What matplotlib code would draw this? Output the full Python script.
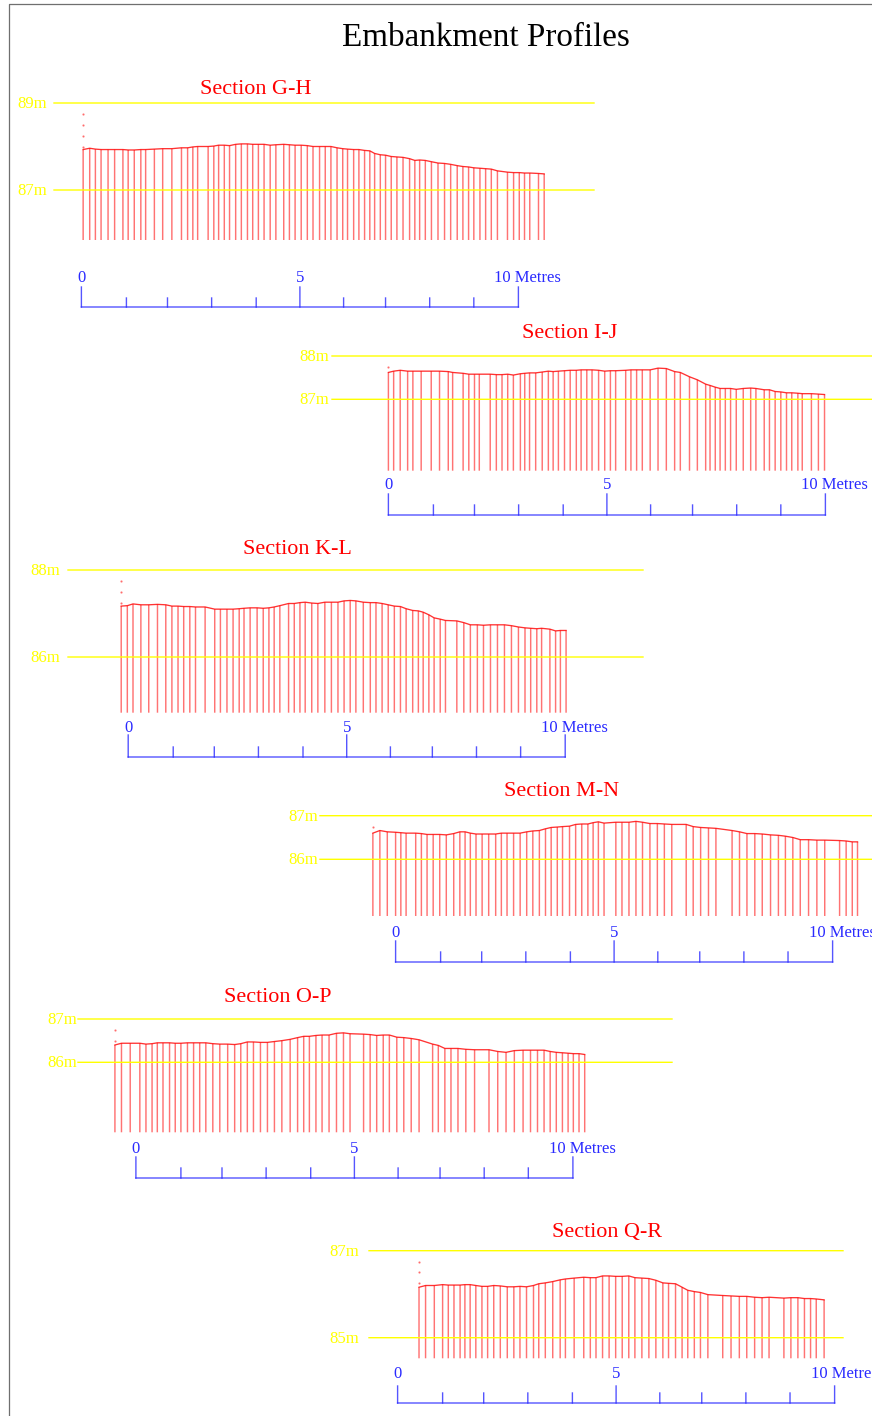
import matplotlib
matplotlib.use('Agg')
import matplotlib.pyplot as plt

plt.rcParams['font.family'] = ['Liberation Serif', 'DejaVu Serif']

# stations along each section (metres from the scale zero) and top of embankment (metres)
gh_x = [0.04,0.19,0.32,0.45,0.61,0.76,0.95,1.07,1.21,1.36,1.47,1.67,1.86,2.07,2.29,2.43,2.55,2.66,2.90,3.03,3.14,3.27,3.39,3.53,3.66,3.80,3.92,4.05,4.18,4.32,4.45,4.63,4.76,4.89,
        5.03,5.17,5.30,5.45,5.58,5.71,5.85,5.98,6.09,6.23,6.35,6.48,6.60,6.71,6.84,6.96,7.09,7.22,7.36,7.51,7.63,7.74,7.87,8.01,8.16,8.31,8.45,8.60,8.73,8.86,8.98,9.12,9.25,9.38,9.52,9.75,9.89,10.02,10.14,10.26,10.46,10.59]
gh_y = [87.93,87.96,87.94,87.93,87.93,87.93,87.93,87.92,87.92,87.93,87.93,87.94,87.95,87.95,87.97,87.97,87.99,88.00,88.00,88.01,88.03,88.03,88.02,88.05,88.06,88.06,88.05,88.05,88.05,88.03,88.04,88.05,88.04,88.03,
        88.03,88.02,88.00,88.00,88.00,88.00,87.97,87.95,87.94,87.93,87.93,87.91,87.90,87.84,87.81,87.80,87.77,87.76,87.75,87.72,87.68,87.69,87.68,87.65,87.62,87.61,87.59,87.56,87.54,87.53,87.51,87.50,87.49,87.48,87.44,87.41,87.40,87.40,87.39,87.39,87.38,87.37]

ij_x = [0,0.12,0.27,0.44,0.56,0.75,0.98,1.17,1.37,1.47,1.71,1.84,1.97,2.08,2.33,2.47,2.60,2.73,2.86,3.02,3.12,3.23,3.37,3.52,3.66,3.77,3.89,4.03,4.16,4.30,4.41,4.54,
        4.66,4.81,4.95,5.08,5.20,5.43,5.55,5.68,5.81,5.99,6.17,6.36,6.55,6.68,6.89,7.07,7.26,7.36,7.48,7.59,7.71,7.83,7.96,8.12,8.29,8.41,8.60,8.72,8.85,8.98,9.11,9.23,9.37,9.47,9.68,9.84,9.98]
ij_y = [87.62,87.65,87.67,87.65,87.65,87.65,87.65,87.65,87.64,87.62,87.60,87.58,87.58,87.58,87.58,87.57,87.57,87.58,87.56,87.59,87.60,87.61,87.61,87.63,87.65,87.64,87.65,87.66,87.67,87.67,87.68,87.68,
        87.68,87.67,87.65,87.66,87.66,87.67,87.68,87.68,87.68,87.68,87.72,87.71,87.64,87.62,87.52,87.45,87.35,87.32,87.28,87.25,87.25,87.25,87.23,87.25,87.26,87.25,87.22,87.22,87.18,87.17,87.15,87.15,87.14,87.13,87.13,87.12,87.11]

kl_x = [-0.16,-0.02,0.11,0.29,0.47,0.67,0.86,1.00,1.14,1.27,1.41,1.54,1.76,1.98,2.11,2.26,2.40,2.54,2.65,2.79,2.95,3.09,3.22,3.34,3.47,3.67,3.80,3.93,4.05,4.20,4.34,4.50,4.65,4.80,
        4.94,5.08,5.21,5.38,5.54,5.67,5.81,5.95,6.09,6.23,6.36,6.51,6.64,6.75,6.88,7.00,7.14,7.26,7.52,7.68,7.83,7.99,8.13,8.29,8.45,8.61,8.77,8.93,9.08,9.21,9.35,9.46,9.65,9.78,9.89,10.02]
kl_y = [87.17,87.18,87.22,87.20,87.20,87.21,87.20,87.17,87.17,87.16,87.16,87.15,87.15,87.10,87.10,87.10,87.10,87.11,87.12,87.13,87.13,87.12,87.13,87.15,87.18,87.23,87.23,87.25,87.26,87.24,87.23,87.26,87.26,87.26,
        87.29,87.30,87.29,87.26,87.25,87.25,87.23,87.20,87.17,87.16,87.11,87.07,87.06,87.03,86.97,86.90,86.87,86.84,86.83,86.79,86.74,86.74,86.73,86.74,86.74,86.74,86.72,86.69,86.67,86.66,86.65,86.66,86.64,86.60,86.61,86.61]

mn_x = [-0.52,-0.36,-0.19,0,0.12,0.24,0.46,0.59,0.72,0.86,1.01,1.16,1.33,1.47,1.59,1.71,1.84,1.98,2.13,2.29,2.42,2.55,2.70,2.85,3.00,3.14,3.29,3.43,3.56,3.70,3.82,3.98,4.12,4.26,4.40,4.52,4.64,4.77,
        5.04,5.18,5.34,5.50,5.65,5.82,5.99,6.15,6.32,6.65,6.81,6.98,7.16,7.33,7.70,7.87,8.04,8.22,8.39,8.58,8.76,8.92,9.09,9.26,9.45,9.64,9.82,10.16,10.31,10.45,10.57]
mn_y = [86.60,86.66,86.63,86.62,86.61,86.60,86.60,86.59,86.57,86.57,86.57,86.56,86.59,86.63,86.63,86.60,86.58,86.58,86.58,86.58,86.60,86.60,86.60,86.60,86.63,86.65,86.66,86.70,86.73,86.74,86.75,86.76,86.80,86.81,86.81,86.84,86.86,86.83,
        86.85,86.85,86.85,86.87,86.85,86.82,86.82,86.81,86.80,86.80,86.75,86.73,86.72,86.71,86.66,86.63,86.59,86.59,86.58,86.56,86.55,86.53,86.50,86.45,86.45,86.44,86.44,86.43,86.42,86.40,86.40]

op_x = [-0.48,-0.33,-0.13,0.09,0.23,0.37,0.49,0.62,0.77,0.90,1.03,1.18,1.32,1.46,1.60,1.76,1.92,2.10,2.26,2.40,2.55,2.69,2.85,3.01,3.17,3.34,3.53,3.70,3.84,3.97,4.12,4.26,4.42,4.59,4.75,
        4.90,5.21,5.36,5.51,5.66,5.80,5.97,6.13,6.30,6.48,6.79,6.92,7.07,7.21,7.37,7.55,7.75,8.08,8.28,8.47,8.66,8.86,9.03,9.19,9.34,9.48,9.62,9.76,9.89,10.01,10.14,10.27]
op_y = [86.40,86.44,86.44,86.44,86.42,86.43,86.45,86.45,86.45,86.44,86.44,86.45,86.45,86.45,86.45,86.43,86.42,86.42,86.41,86.43,86.47,86.47,86.46,86.46,86.48,86.50,86.53,86.57,86.60,86.60,86.62,86.63,86.63,86.67,86.68,
        86.66,86.65,86.64,86.62,86.63,86.63,86.58,86.57,86.55,86.52,86.42,86.39,86.32,86.32,86.32,86.30,86.29,86.29,86.25,86.23,86.27,86.28,86.28,86.28,86.28,86.25,86.23,86.22,86.21,86.20,86.20,86.18]

qr_x = [0.49,0.64,0.84,1.03,1.16,1.29,1.43,1.54,1.66,1.79,1.93,2.06,2.20,2.35,2.51,2.66,2.80,2.95,3.11,3.23,3.38,3.55,3.72,3.84,4.04,4.26,4.41,4.54,4.69,4.84,4.99,5.14,5.29,5.43,
        5.59,5.75,5.91,6.07,6.20,6.36,6.51,6.64,6.79,6.93,7.10,7.44,7.63,7.82,7.99,8.17,8.34,8.50,8.84,9.00,9.16,9.31,9.45,9.58,9.76]
qr_y = [86.16,86.20,86.20,86.22,86.21,86.21,86.21,86.22,86.22,86.20,86.18,86.18,86.20,86.19,86.17,86.17,86.18,86.17,86.20,86.24,86.26,86.29,86.33,86.35,86.37,86.39,86.38,86.38,86.42,86.42,86.41,86.41,86.42,86.38,
        86.37,86.36,86.32,86.26,86.25,86.24,86.16,86.09,86.06,86.04,85.99,85.97,85.96,85.95,85.95,85.93,85.92,85.93,85.91,85.92,85.92,85.90,85.90,85.89,85.87]

# small survey dots above the first station
gh_dots = [88.75, 88.5, 88.25, 88.0]
ij_dots = [87.75]
kl_dots = [87.75, 87.5, 87.25]
mn_dots = [86.75]
op_dots = [86.75, 86.5]
qr_dots = [86.75, 86.5, 86.25]

# scale bar ticks, hand drawn so not quite even
scale_ticks = [0, 1.03, 1.97, 2.98, 4, 5, 6, 6.96, 7.97, 8.98, 10]
scale_labels = {0: '0', 5: '5'}

sections = [
    dict(name='Section G-H', xs=gh_x, ys=gh_y, dots=gh_dots, levels=(89, 87), level_px=(103, 190),
         x0=81.4, base=240, line=(54, 594), title=(256, 90), label_r=47, text_y=278, bar=(287, 298, 307)),
    dict(name='Section I-J', xs=ij_x, ys=ij_y, dots=ij_dots, levels=(88, 87), level_px=(356, 399.3),
         x0=388.4, base=470.7, line=(332, 872), title=(570, 334), label_r=329, text_y=485, bar=(494, 505, 515)),
    dict(name='Section K-L', xs=kl_x, ys=kl_y, dots=kl_dots, levels=(88, 86), level_px=(570, 657),
         x0=128.2, base=712.7, line=(68, 643), title=(297, 550), label_r=60, text_y=728, bar=(735, 747, 757)),
    dict(name='Section M-N', xs=mn_x, ys=mn_y, dots=mn_dots, levels=(87, 86), level_px=(815.7, 859.3),
         x0=395.6, base=916, line=(320, 872), title=(562, 792), label_r=318, text_y=933, bar=(941, 952, 962)),
    dict(name='Section O-P', xs=op_x, ys=op_y, dots=op_dots, levels=(87, 86), level_px=(1019, 1062.3),
         x0=135.9, base=1132.3, line=(78, 672), title=(278, 997), label_r=77, text_y=1149, bar=(1157, 1168, 1178)),
    dict(name='Section Q-R', xs=qr_x, ys=qr_y, dots=qr_dots, levels=(87, 85), level_px=(1250.7, 1337.7),
         x0=397.6, base=1358.3, line=(369, 843), title=(607, 1233), label_r=359, text_y=1374, bar=(1386, 1393, 1403)),
]

W, H = 872, 1416
px_per_m = 43.7
RED = '#ff0000'
YELLOW = '#ffff00'
BLUE = '#2a2aff'

fig = plt.figure(figsize=(W / 100, H / 100), dpi=100, facecolor='white')

# page axes in pixels for the frame, titles and labels
page = fig.add_axes([0, 0, 1, 1])
page.set_xlim(0, W)
page.set_ylim(H, 0)
page.axis('off')
page.plot([8.5, 8.5, W], [H, 3.5, 3.5], color='#6f6f6f', lw=0.9)
page.text(486, 37.5, 'Embankment Profiles', ha='center', va='center', fontsize=23.9, color='black')

for s in sections:
    # axes covering the page, scaled in metres for this section
    v_scale = (s['level_px'][1] - s['level_px'][0]) / (s['levels'][0] - s['levels'][1])
    ax = fig.add_axes([0, 0, 1, 1])
    ax.patch.set_alpha(0)
    ax.axis('off')
    ax.set_xlim((0 - s['x0']) / px_per_m, (W - s['x0']) / px_per_m)
    elev = lambda py: s['levels'][1] + (s['level_px'][1] - py) / v_scale
    ax.set_ylim(elev(H), elev(0))
    metres = lambda px: (px - s['x0']) / px_per_m

    # level lines and labels
    for lev, py in zip(s['levels'], s['level_px']):
        ax.plot([metres(s['line'][0]), metres(s['line'][1])], [lev, lev], color=YELLOW, lw=1.0, zorder=3, snap=False)
        page.text(s['label_r'], py + 1, f'{lev}m', ha='right', va='center', fontsize=12, color=YELLOW)

    # embankment profile with its verticals
    verticals = ax.vlines(s['xs'], elev(s['base']), s['ys'], color=RED, lw=1.05, alpha=0.55, zorder=2)
    verticals.set_snap(False)
    ax.plot(s['xs'], s['ys'], color=RED, lw=0.95, alpha=0.8, zorder=2)
    ax.plot([s['xs'][0]] * len(s['dots']), s['dots'], ls='none', marker='.', ms=1.2, color=RED, alpha=0.5)

    page.text(s['title'][0], s['title'][1], s['name'], ha='center', va='center', fontsize=15.9, color=RED)

    # scale bar
    long_top, short_top, bar_y = s['bar']
    ax.plot([0, 10], [elev(bar_y)] * 2, color=BLUE, lw=1.0, alpha=0.8, snap=False)
    for t in scale_ticks:
        top = long_top if t in (0, 5, 10) else short_top
        ax.plot([t, t], [elev(top), elev(bar_y)], color=BLUE, lw=1.0, alpha=0.8, snap=False)
    for val, lab in scale_labels.items():
        ax.text(val, elev(s['text_y']), lab, ha='center', va='center', fontsize=12, color=BLUE)
    ax.text(10 - 24 / px_per_m, elev(s['text_y']), '10 Metres', ha='left', va='center', fontsize=12, color=BLUE)

fig.savefig('out.png', dpi=100, facecolor='white')
